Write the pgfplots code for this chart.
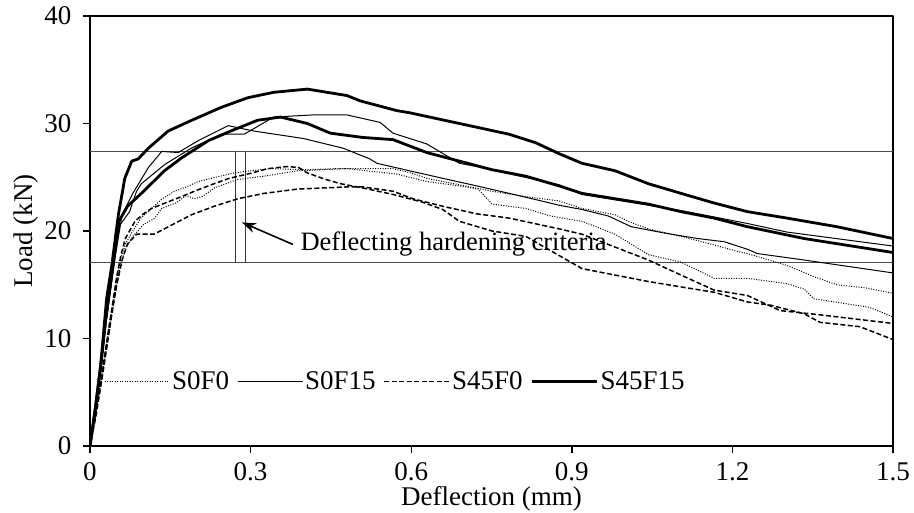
\documentclass[border=0pt]{standalone}
\usepackage{fontspec}
\setmainfont{Liberation Serif}
\usepackage{pgfplots}
\pgfplotsset{compat=1.18}
\usetikzlibrary{arrows.meta}
\begin{document}
\begin{tikzpicture}
\begin{axis}[
  scale only axis, width=803pt, height=430pt,
  xmin=0, xmax=1.5, ymin=0, ymax=40,
  xtick={0,0.3,0.6,0.9,1.2,1.5}, ytick={0,10,20,30,40},
  xticklabels={0,0.3,0.6,0.9,1.2,1.5},
  yticklabels={0,10,20,30,40},
  tick align=outside, xtick pos=left, ytick pos=left,
  major tick length=7pt,
  every tick/.style={black, line width=1.4pt},
  axis line style={line width=1.8pt},
  ticklabel style={font=\fontsize{27}{32}\selectfont},
  xticklabel style={yshift=-6pt},
  yticklabel style={xshift=-8pt},
  label style={font=\fontsize{27}{32}\selectfont},
  xlabel={Deflection (mm)}, ylabel={Load (kN)},
  xlabel style={at={(axis description cs:0.5,0)}, anchor=north, inner sep=0pt, yshift=-40pt},
  ylabel style={at={(axis description cs:-0.0648,0.5)}, anchor=south, inner sep=0pt},
  legend style={at={(axis cs:0.026,5.98)}, anchor=west, draw=none, fill=none,
    font=\fontsize{27}{32}\selectfont, legend columns=4, inner sep=0pt,
    /tikz/every even column/.append style={column sep=6pt}},
  legend cell align=left,
  legend image code/.code={\draw[#1] (0pt,0pt) -- (65pt,0pt);},
  line join=round,
]
% criteria lines
\addplot[black!70, line width=0.9pt, forget plot] coordinates {(0,27.4) (1.5,27.4)};
\addplot[black!70, line width=0.9pt, forget plot] coordinates {(0,17.1) (1.5,17.1)};
\addplot[black!80, line width=0.9pt, forget plot] coordinates {(0.272,17.1) (0.272,27.4)};
\addplot[black!80, line width=0.9pt, forget plot] coordinates {(0.290,17.1) (0.290,27.4)};

% S0F0 (dotted)
\addplot[black, line width=1pt, dash pattern=on 1pt off 1.5pt] coordinates {
(0,0) (0.01,2.8) (0.02,6) (0.03,9.3) (0.04,12.5) (0.05,15.5) (0.058,17.5) (0.066,18.8) (0.08,20.0) (0.095,21.2) (0.115,22.1) (0.135,23) (0.158,23.7) (0.18,24.1) (0.202,24.6) (0.235,25.0) (0.269,25.4) (0.3,25.6) (0.338,25.8) (0.4,25.7) (0.46,25.8) (0.523,25.8) (0.566,25.8) (0.6,25.4) (0.629,24.9) (0.69,24.3) (0.751,23.7) (0.814,23.2) (0.876,22.8) (0.919,22.1) (0.981,21.5) (1.01,20.8) (1.043,20.2) (1.104,19.5) (1.166,18.7) (1.21,18.1) (1.228,17.9) (1.302,16.8) (1.35,15.8) (1.395,15.0) (1.45,14.7) (1.5,14.2)};
\addlegendentry{S0F0}
% S0F15 (thin)
\addplot[black, line width=1pt] coordinates {
(0,0) (0.01,3.3) (0.02,7) (0.03,11.5) (0.045,17) (0.055,20.5) (0.074,21.8) (0.087,23.7) (0.096,24.4) (0.14,26.2) (0.189,27.7) (0.245,29.0) (0.288,29.0) (0.343,30.6) (0.417,30.8) (0.48,30.8) (0.542,30.1) (0.566,29.1) (0.629,28.1) (0.69,26.3) (0.722,26.0) (0.876,24.3) (0.919,23.4) (0.981,22.9) (1.043,22.4) (1.104,21.9) (1.166,21.3) (1.228,20.7) (1.302,19.9) (1.5,18.6)};
\addlegendentry{S0F15}
% S45F0 (dashed)
\addplot[black, line width=1.5pt, dash pattern=on 5pt off 2.5pt] coordinates {
(0,0) (0.01,2.8) (0.02,6) (0.03,9.3) (0.04,12.5) (0.05,15.8) (0.058,17.8) (0.066,19.3) (0.084,20.9) (0.1,21.6) (0.115,22.1) (0.14,22.6) (0.171,23.2) (0.2,23.8) (0.232,24.4) (0.26,24.9) (0.295,25.3) (0.332,25.8) (0.369,26.0) (0.39,25.9) (0.406,25.4) (0.44,24.8) (0.468,24.4) (0.51,24.0) (0.566,23.4) (0.62,22.7) (0.659,22.0) (0.69,20.9) (0.751,20.0) (0.814,19.5) (0.863,18.1) (0.919,16.5) (0.981,15.9) (1.043,15.3) (1.104,14.8) (1.166,14.3) (1.228,13.4) (1.271,13.1) (1.334,12.3) (1.364,11.5) (1.438,11.1) (1.5,9.9)};
\addlegendentry{S45F0}
% S45F15 (thick)
\addplot[black, line width=2.8pt] coordinates {
(0,0) (0.01,3.5) (0.02,7.5) (0.031,13.7) (0.041,16.9) (0.053,21.5) (0.065,24.9) (0.078,26.5) (0.09,26.7) (0.109,27.7) (0.146,29.3) (0.19,30.3) (0.245,31.5) (0.295,32.4) (0.343,32.9) (0.406,33.2) (0.48,32.6) (0.505,32.1) (0.573,31.2) (0.597,31.0) (0.69,30.0) (0.783,29.0) (0.833,28.2) (0.876,27.2) (0.919,26.3) (0.981,25.6) (1.043,24.4) (1.104,23.5) (1.166,22.6) (1.228,21.8) (1.302,21.2) (1.395,20.4) (1.5,19.3)};
\addlegendentry{S45F15}

% second specimens
\addplot[black, line width=1pt, dash pattern=on 1pt off 1.5pt, forget plot] coordinates {
(0,0) (0.01,2.6) (0.02,5.6) (0.03,8.8) (0.04,12) (0.05,15) (0.058,17) (0.068,18.5) (0.08,19.5) (0.1,20.6) (0.121,21.2) (0.134,22.1) (0.16,22.6) (0.18,23.3) (0.195,23.0) (0.21,23.2) (0.232,24.0) (0.276,24.8) (0.325,25.1) (0.388,25.6) (0.48,25.8) (0.573,25.3) (0.629,24.6) (0.69,24.2) (0.725,23.9) (0.751,22.5) (0.814,22.1) (0.86,21.4) (0.919,20.9) (0.981,19.7) (1.043,17.8) (1.104,17.1) (1.166,15.6) (1.228,15.6) (1.302,15.1) (1.334,14.6) (1.352,13.7) (1.456,12.9) (1.5,12.0)};
\addplot[black, line width=1pt, forget plot] coordinates {
(0,0) (0.01,3.3) (0.02,7) (0.03,11.5) (0.045,17) (0.06,21.5) (0.08,23.5) (0.109,25.9) (0.134,27.4) (0.165,27.3) (0.202,28.4) (0.258,29.8) (0.306,29.3) (0.399,28.6) (0.473,27.7) (0.523,26.7) (0.536,26.3) (0.597,25.6) (0.659,24.9) (0.722,24.2) (0.783,23.5) (0.826,23.0) (0.876,22.4) (0.919,22.0) (0.968,21.4) (1.011,20.4) (1.074,19.8) (1.135,19.3) (1.185,19.0) (1.228,18.3) (1.247,17.9) (1.334,17.3) (1.5,16.1)};
\addplot[black, line width=1.5pt, dash pattern=on 5pt off 2.5pt, forget plot] coordinates {
(0,0) (0.01,2.5) (0.02,5.5) (0.03,8.7) (0.04,12) (0.05,15) (0.06,17.3) (0.07,18.8) (0.087,19.7) (0.119,19.7) (0.139,20.2) (0.189,21.5) (0.232,22.3) (0.276,23.0) (0.325,23.5) (0.388,23.9) (0.48,24.1) (0.51,24.1) (0.566,23.7) (0.603,23.0) (0.659,22.3) (0.722,21.6) (0.783,21.2) (0.876,20.2) (0.919,19.7) (0.981,18.5) (1.043,17.3) (1.104,15.9) (1.166,14.5) (1.228,14.0) (1.289,12.6) (1.364,12.2) (1.5,11.4)};
\addplot[black, line width=2.8pt, forget plot] coordinates {
(0,0) (0.01,3.5) (0.02,7.5) (0.03,12) (0.045,17.5) (0.054,20.9) (0.07,22.3) (0.096,23.5) (0.139,25.6) (0.171,26.8) (0.221,28.4) (0.263,29.3) (0.313,30.3) (0.356,30.6) (0.406,30.0) (0.449,29.1) (0.51,28.7) (0.566,28.5) (0.629,27.3) (0.69,26.5) (0.751,25.7) (0.814,25.1) (0.876,24.2) (0.919,23.5) (0.981,23.0) (1.043,22.5) (1.104,21.8) (1.166,21.2) (1.228,20.4) (1.334,19.3) (1.5,18.0)};

\draw[-{Stealth[length=14pt,width=10pt]}, line width=1.6pt] (axis cs:0.379,18.75) -- (axis cs:0.284,20.8);
\node[anchor=base west, inner sep=0pt, font=\fontsize{26.5}{31}\selectfont, fill=none] at (axis cs:0.393,18.2) {Deflecting hardening criteria};
\end{axis}
\path ([shift={(-90pt,-66pt)}]current axis.south west) rectangle ([shift={(21pt,16pt)}]current axis.north east);
\end{tikzpicture}
\end{document}
